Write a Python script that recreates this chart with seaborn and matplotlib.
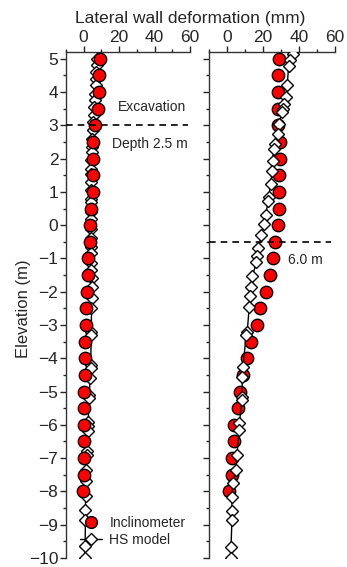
import numpy as np
import pandas as pd
import matplotlib
matplotlib.use('Agg')
import matplotlib.pyplot as plt
from matplotlib.lines import Line2D
from matplotlib.ticker import MultipleLocator
import seaborn as sns

# Inclinometer readings (elevation in m, deformation in mm)
incl_elev = [5, 4.5, 4, 3.5, 3, 2.5, 2, 1.5, 1, 0.5, 0, -0.5, -1, -1.5, -2,
             -2.5, -3, -3.5, -4, -4.5, -5, -5.5, -6, -6.5, -7, -7.5, -8]
incl_left = [9.0, 8.6, 8.4, 7.8, 6.5, 5.5, 5.3, 5.2, 5.0, 4.4, 3.6, 3.3, 2.6, 2.2, 1.8,
             1.5, 1.2, 0.9, 0.6, 0.5, 0.4, 0.1, 0.1, 0.0, 0.0, 0.0, -0.4]
incl_right = [28.8, 28.2, 28.2, 28.2, 28.5, 29.4, 29.4, 29.0, 29.0, 28.8, 28.6, 26.6, 25.4, 23.7, 22.0,
              18.6, 16.9, 13.6, 11.3, 9.0, 7.3, 6.2, 4.0, 4.0, 2.8, 2.8, 1.1]

# HS model results
hs_left_elev = [5.0, 4.8, 4.6, 4.4, 4.2, 3.95, 3.75, 3.55, 3.3, 3.1, 2.85, 2.6, 2.35, 2.2,
                1.95, 1.7, 1.55, 1.3, 1.05, 0.8, 0.7, 0.4, 0.2, -0.1, -0.4, -0.65, -0.85,
                -1.15, -1.35, -1.6, -1.85, -2.2, -2.5, -3.2, -3.3, -4.2, -4.3, -4.6, -5.1,
                -5.2, -5.9, -6.05, -6.2, -6.8, -6.9, -7.35, -7.7, -8.15, -8.55, -8.85,
                -9.65, -10.0]
hs_left = [7.5, 7.5, 7.2, 7.0, 6.8, 6.6, 6.3, 6.0, 5.6, 5.3, 5.0, 4.8, 4.6, 4.5,
           4.4, 4.3, 4.2, 4.1, 4.0, 4.0, 4.0, 4.0, 4.0, 4.0, 4.0, 4.1, 4.2,
           4.3, 4.4, 4.5, 4.5, 4.5, 4.4, 4.3, 4.2, 4.0, 4.0, 3.6, 3.2,
           3.2, 2.5, 2.3, 2.2, 1.8, 1.7, 1.4, 1.2, 1.1, 1.0, 1.0,
           0.8, 0.8]
hs_right_elev = [5.15, 4.95, 4.77, 4.2, 3.85, 3.65, 3.5, 3.4, 3.05, 2.75, 2.45, 2.3, 1.93,
                 1.63, 1.23, 0.84, 0.72, 0.3, 0.03, -0.3, -0.7, -0.93, -1.1, -1.54, -1.87,
                 -2.14, -2.47, -3.2, -3.3, -4.25, -4.55, -5.15, -5.25, -5.95, -6.15, -6.9,
                 -7.35, -7.75, -8.17, -8.6, -8.85, -9.66, -10.0]
hs_right = [36.5, 35.3, 34.3, 33.5, 33.0, 31.8, 31.0, 30.5, 29.0, 28.5, 27.0, 26.0, 25.4,
            25.2, 24.3, 23.2, 23.0, 21.5, 20.9, 19.2, 17.5, 16.9, 16.4, 14.2, 13.6,
            13.0, 12.4, 11.3, 10.7, 9.0, 8.5, 8.5, 8.2, 7.0, 6.8, 5.6,
            5.0, 3.4, 2.8, 2.8, 2.8, 2.3, 2.3]

sns.set_style('ticks')
plt.rcParams['font.family'] = ['Liberation Sans', 'DejaVu Sans']

fig = plt.figure(figsize=(3.47, 5.67), dpi=100)
ax_l = fig.add_axes([0.190, 0.016, 0.358, 0.892])
ax_r = fig.add_axes([0.602, 0.016, 0.363, 0.892])


def draw_panel(ax, hs_x, hs_y, inc_x, inc_y, hs_on_top):
    hs = pd.DataFrame({'x': hs_x, 'y': hs_y})
    inc = pd.DataFrame({'x': inc_x, 'y': inc_y})
    z_hs, z_inc = (4, 3) if hs_on_top else (3, 4)
    sns.lineplot(data=hs, x='x', y='y', sort=False, orient='y', ax=ax, color='black',
                 lw=1.0, marker='D', ms=6, mfc='white', mec='black', mew=1.0, zorder=z_hs)
    sns.scatterplot(data=inc, x='x', y='y', ax=ax, color='red', edgecolor='black',
                    linewidth=1.0, s=80, zorder=z_inc)
    ax.set_xlim(-10, 60)
    ax.set_ylim(-10, 5.2)
    ax.set_xlabel('')
    ax.set_ylabel('')
    ax.xaxis.tick_top()
    ax.xaxis.set_major_locator(MultipleLocator(20))
    ax.xaxis.set_minor_locator(MultipleLocator(10))
    ax.set_xticks([0, 20, 40, 60])
    ax.yaxis.set_major_locator(MultipleLocator(1))
    ax.yaxis.set_minor_locator(MultipleLocator(0.5))
    ax.tick_params(which='major', length=4, width=1, labelsize=12.5, pad=1.5)
    ax.tick_params(which='minor', length=2.5, width=1)
    for side in ['right', 'bottom']:
        ax.spines[side].set_visible(False)
    for side in ['top', 'left']:
        ax.spines[side].set_linewidth(1.0)
        ax.spines[side].set_color('#333333')


draw_panel(ax_l, hs_left, hs_left_elev, incl_left, incl_elev, hs_on_top=False)
draw_panel(ax_r, hs_right, hs_right_elev, incl_right, incl_elev, hs_on_top=True)
ax_r.tick_params(axis='y', labelleft=False)

# excavation depth lines
ax_l.axhline(3.0, xmax=0.985, color='black', ls='--', lw=1.2, dashes=(4, 3), zorder=5)
ax_l.text(58, 3.35, 'Excavation', ha='right', va='bottom', fontsize=10)
ax_l.text(58.5, 2.65, 'Depth 2.5 m', ha='right', va='top', fontsize=10)
ax_r.axhline(-0.5, xmax=0.97, color='black', ls='--', lw=1.2, dashes=(4, 3), zorder=5)
ax_r.text(53, -0.85, '6.0 m', ha='right', va='top', fontsize=10)

handles = [Line2D([], [], ls='none', marker='o', ms=8.5, mfc='red', mec='black', mew=1.0),
           Line2D([], [], color='black', lw=1.0, marker='D', ms=6, mfc='white',
                  mec='black', mew=1.0)]
ax_l.legend(handles, ['Inclinometer', 'HS model'], loc='lower right',
            bbox_to_anchor=(1.03, 0.005), frameon=False, fontsize=10,
            handlelength=1.6, handletextpad=0.5, labelspacing=0.2, borderaxespad=0.2)

fig.text(0.547, 0.968, 'Lateral wall deformation (mm)', ha='center', va='center', fontsize=12.5)
fig.text(0.068, 0.455, 'Elevation (m)', ha='center', va='center', rotation=90, fontsize=12)

fig.savefig('out.png', dpi=100)
